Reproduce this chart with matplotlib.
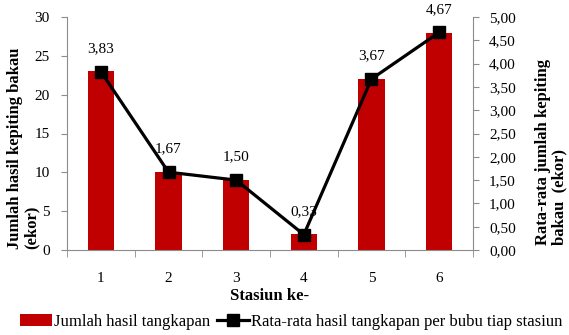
import matplotlib
matplotlib.use("Agg")
import matplotlib.pyplot as plt
import numpy as np

stations = ["1", "2", "3", "4", "5", "6"]
total_catch = [23, 10, 9, 2, 22, 28]
mean_catch = [3.83, 1.67, 1.50, 0.33, 3.67, 4.67]
mean_labels = ["3,83", "1,67", "1,50", "0,33", "3,67", "4,67"]
left_ticks = [0, 5, 10, 15, 20, 25, 30]
right_ticks = [0, 0.5, 1.0, 1.5, 2.0, 2.5, 3.0, 3.5, 4.0, 4.5, 5.0]

plt.rcParams["font.family"] = ["Liberation Serif", "DejaVu Serif"]

W, H = 569, 335
fig = plt.figure(figsize=(W / 100, H / 100), dpi=100)
ax = fig.add_axes([67 / W, 1 - 250 / H, 406 / W, 233 / H])
ax2 = ax.twinx()

x = np.arange(len(stations))
bar_color = "#C00000"
axis_grey = "#8C8C8C"
bars = ax.bar(x, total_catch, width=0.39, color=bar_color, zorder=2,
              label="Jumlah hasil tangkapan")
ax.set_xlim(-0.5, len(stations) - 0.5)
ax.set_ylim(0, 30)
ax.set_yticks(left_ticks)
ax.set_yticklabels([str(t) for t in left_ticks], fontsize=11)
ax.set_xticks(x)
ax.set_xticklabels(stations, fontsize=11)
ax.set_xticks(np.arange(len(stations) + 1) - 0.5, minor=True)
ax.tick_params(axis="x", which="major", length=0, pad=16)
ax.tick_params(axis="x", which="minor", length=5, color=axis_grey)
ax.tick_params(axis="y", length=4, color=axis_grey, pad=8.5)

line, = ax2.plot(x, mean_catch, color="black", lw=2.3, marker="s",
                 markersize=8, zorder=3,
                 label="Rata-rata hasil tangkapan per bubu tiap stasiun")
ax2.set_ylim(0, 5)
ax2.set_yticks(right_ticks)
ax2.set_yticklabels([f"{t:.2f}".replace(".", ",") for t in right_ticks],
                    fontsize=11)
ax2.tick_params(axis="y", length=4, color=axis_grey, pad=7.5)

for xi, yi, lab in zip(x, mean_catch, mean_labels):
    ax2.annotate(lab, (xi, yi), xytext=(0, 12), textcoords="offset points",
                 ha="center", va="bottom", fontsize=11)

for a in (ax, ax2):
    a.spines["top"].set_visible(False)
    for side in ("left", "right", "bottom"):
        a.spines[side].set_color(axis_grey)
ax.spines["right"].set_visible(False)
ax2.spines["left"].set_visible(False)
ax2.spines["bottom"].set_visible(False)

ax.set_xlabel("Stasiun ke-", fontsize=12, fontweight="bold", labelpad=2)

# left axis title: two rotated lines, both starting at the bottom
label_font = dict(rotation=90, ha="center", va="bottom", fontsize=12,
                  fontweight="bold")
fig.text(15 / W, 1 - 249 / H, "Jumlah hasil kepiting bakau", **label_font)
fig.text(32 / W, 1 - 249 / H, "(ekor)", **label_font)

fig.text(551 / W, 1 - 152 / H, "Rata-rata jumlah kepiting\nbakau  (ekor)",
         rotation=90, ha="center", va="center", multialignment="left",
         fontsize=12, fontweight="bold", linespacing=1.0)

fig.legend(handles=[bars, line], loc="center left",
           bbox_to_anchor=(20 / W, 1 - 322 / H), ncol=2, frameon=False,
           fontsize=12, handlelength=1.9, columnspacing=0.4,
           handletextpad=0.15, borderpad=0, borderaxespad=0)

fig.savefig("out.png", dpi=100)
